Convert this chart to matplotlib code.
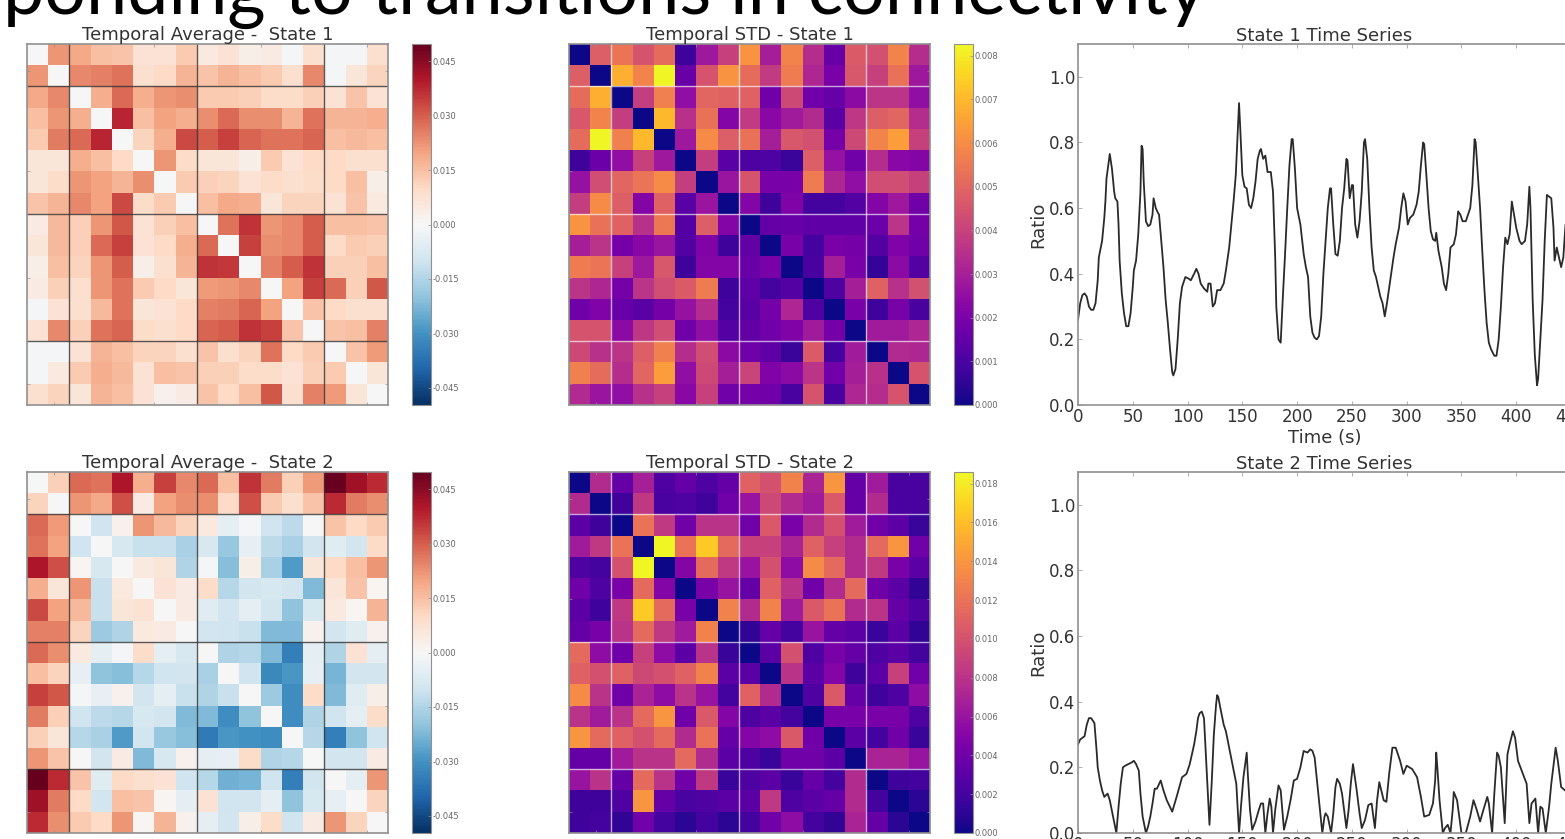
"""Connectivity state panels: temporal average, temporal STD and time series."""
import numpy as np
import matplotlib
matplotlib.use("Agg")
import matplotlib.pyplot as plt

W, H = 1565, 839

heading = "ponding to transitions in connectivity"

# all matrix values in thousandths
avg_state1 = [
    [0, 22, 19, 15, 14, 7, 7, 13, 5, 7, 3, 4, -1, 8, -1, -1, 8],
    [22, 0, 24, 25, 27, 8, 10, 17, 14, 17, 15, 13, 8, 24, -1, 6, 11],
    [19, 24, 0, 18, 28, 18, 22, 23, 13, 13, 12, 9, 9, 12, 7, 14, 7],
    [15, 22, 18, 0, 38, 15, 20, 18, 23, 28, 23, 23, 17, 27, 17, 17, 18],
    [13, 26, 28, 38, 0, 11, 18, 33, 30, 34, 29, 27, 27, 29, 15, 16, 15],
    [6, 6, 18, 15, 10, 0, 22, 9, 6, 6, 3, 13, 7, 10, 10, 8, 8],
    [6, 9, 22, 20, 17, 23, 0, 13, 12, 11, 7, 9, 8, 9, 10, 15, 3],
    [14, 17, 24, 20, 33, 9, 13, 0, 15, 19, 18, 6, 11, 11, 7, 14, 5],
    [4, 16, 12, 22, 31, 7, 12, 15, 0, 27, 36, 22, 24, 30, 15, 15, 14],
    [6, 16, 12, 28, 34, 7, 10, 18, 28, 0, 34, 23, 24, 30, 10, 13, 12],
    [3, 15, 11, 22, 30, 3, 8, 17, 36, 35, 0, 25, 30, 36, 12, 12, 15],
    [4, 12, 8, 22, 27, 13, 10, 6, 21, 22, 24, 0, 20, 34, 28, 12, 31],
    [-1, 7, 8, 16, 27, 6, 7, 10, 25, 26, 29, 20, 0, 14, 10, 8, 8],
    [7, 24, 12, 27, 29, 9, 8, 10, 29, 30, 36, 34, 14, 0, 14, 15, 25],
    [-1, -1, 7, 17, 15, 11, 11, 8, 14, 8, 11, 27, 10, 13, 0, 14, 21],
    [-1, 5, 13, 18, 16, 7, 15, 14, 12, 12, 9, 9, 7, 12, 13, 0, 6],
    [8, 11, 6, 17, 15, 7, 2, 4, 14, 10, 15, 31, 8, 25, 21, 6, 0],
]
avg_state2 = [
    [0, 12, 28, 27, 40, 18, 34, 24, 28, 15, 36, 26, 12, 21, 49, 42, 37],
    [11, 0, 22, 19, 32, 4, 20, 23, 23, 10, 32, 13, 8, 14, 37, 26, 23],
    [28, 21, 0, -10, 2, 22, 16, 11, 5, -5, -1, -10, -13, 0, 14, 10, 13],
    [27, 20, -10, 0, -8, -11, -11, -16, -8, -19, -4, -13, -16, -9, -6, -9, 10],
    [40, 32, 1, -8, 0, 5, 6, -15, -1, -21, 3, -16, -28, 6, 10, 15, 22],
    [18, 6, 22, -11, 5, 0, 7, 4, 9, -14, -9, -8, -9, -22, 6, 14, 1],
    [33, 20, 16, -11, 6, 7, 0, 4, -6, -9, -5, -9, -20, -8, 5, 1, 17],
    [25, 25, 11, -18, -15, 5, 4, 0, -9, -10, -11, -22, -22, 2, -9, -6, 2],
    [28, 23, 5, -5, -1, 9, -5, -8, 0, -15, -14, -22, -34, -5, -15, 7, -5],
    [15, 11, -4, -20, -21, -14, -10, -9, -16, 0, -10, -32, -29, -4, -23, -9, -9],
    [34, 31, -1, -4, 2, -9, -5, -11, -15, -11, 0, -18, -31, 9, -22, -6, 3],
    [26, 12, -10, -13, -14, -8, -9, -22, -22, -31, -20, 0, -31, -15, -10, -5, 9],
    [12, 6, -14, -16, -28, -9, -19, -21, -35, -29, -30, -31, 0, -14, -34, -20, -10],
    [22, 14, 0, -9, 4, -22, -8, 2, -5, -4, 9, -15, -14, 0, -9, -9, 4],
    [50, 37, 14, -6, 10, 8, 7, -10, -14, -24, -23, -10, -34, -9, 0, -5, 22],
    [42, 26, 10, -9, 15, 14, 1, -5, 7, -10, -9, -5, -20, -8, -4, 0, 11],
    [37, 23, 13, 10, 22, 1, 17, 2, -5, -9, 3, 9, -10, 4, 22, 11, 0],
]
std_state1 = [
    [0, 4.8, 5.4, 4.5, 5.2, 0.8, 2.8, 4.0, 6.2, 3.0, 5.8, 3.4, 1.6, 4.7, 4.4, 5.8, 3.4],
    [4.8, 0, 6.8, 5.8, 8.2, 1.6, 4.5, 6.2, 5.2, 3.8, 5.6, 3.2, 2.0, 4.6, 4.0, 5.3, 2.8],
    [5.2, 6.8, 0, 3.9, 5.7, 2.5, 5.0, 4.9, 4.9, 1.8, 4.2, 1.8, 1.6, 2.4, 3.6, 3.6, 2.5],
    [4.6, 5.8, 3.9, 0, 7.0, 3.5, 5.3, 2.2, 3.8, 2.3, 2.9, 3.3, 1.3, 3.7, 4.8, 5.0, 3.4],
    [5.2, 8.2, 5.7, 7.0, 0, 2.8, 6.0, 4.8, 5.3, 3.0, 4.6, 4.4, 1.9, 4.2, 5.8, 6.4, 4.0],
    [0.8, 1.7, 2.5, 4.0, 2.8, 0, 3.9, 1.3, 1.1, 1.1, 0.7, 4.8, 2.6, 1.8, 3.4, 2.3, 2.2],
    [2.6, 4.3, 5.0, 5.4, 6.0, 3.9, 0, 2.7, 4.5, 2.0, 2.0, 5.6, 3.2, 2.5, 4.3, 4.3, 4.0],
    [3.9, 6.0, 4.8, 2.2, 4.9, 1.3, 2.7, 0, 2.2, 0.8, 2.1, 0.9, 0.9, 1.2, 2.2, 2.8, 1.8],
    [6.2, 5.3, 4.9, 3.5, 5.5, 1.2, 4.8, 2.2, 0, 1.5, 1.6, 1.4, 1.4, 1.4, 1.7, 3.6, 1.9],
    [3.0, 3.6, 1.9, 2.3, 2.7, 1.2, 2.1, 0.8, 1.5, 0, 2.0, 0.9, 2.0, 1.9, 1.2, 2.1, 1.8],
    [5.6, 5.4, 4.0, 2.8, 4.6, 0.8, 2.2, 2.2, 1.6, 2.0, 0, 1.0, 3.0, 2.0, 0.6, 2.4, 1.2],
    [3.6, 3.2, 1.9, 3.6, 4.3, 4.7, 5.6, 0.8, 1.4, 0.9, 1.2, 0, 1.1, 3.0, 4.9, 3.5, 4.4],
    [1.8, 2.1, 1.6, 1.3, 1.9, 2.6, 3.4, 0.9, 1.3, 1.9, 3.2, 1.1, 0, 2.0, 0.8, 2.0, 1.0],
    [4.5, 4.5, 2.4, 3.7, 4.3, 1.8, 2.5, 1.2, 1.5, 1.8, 2.1, 2.9, 1.9, 0, 2.9, 2.9, 3.2],
    [4.2, 3.5, 3.6, 4.8, 5.7, 3.4, 4.3, 2.4, 1.8, 1.4, 0.7, 4.7, 0.9, 2.9, 0, 3.3, 3.2],
    [5.7, 5.2, 3.4, 5.0, 6.4, 2.5, 4.2, 3.0, 4.1, 2.1, 2.4, 3.6, 1.8, 3.0, 3.5, 0, 4.5],
    [3.3, 2.7, 2.5, 3.5, 4.0, 2.3, 4.0, 1.8, 1.9, 1.8, 1.0, 4.5, 1.0, 3.2, 3.4, 4.5, 0],
]
std_state2 = [
    [0, 7.5, 3.5, 6.8, 2.5, 3.5, 2.5, 3.5, 11, 10, 13, 7, 14, 3.5, 6.5, 2.2, 2.2],
    [7.5, 0, 1.8, 8.5, 2.2, 2.4, 1.8, 4, 6, 9.5, 7.5, 6.5, 10.5, 3.5, 7.5, 2.2, 2.2],
    [3, 1.8, 0, 12, 8.5, 4, 8, 8, 4, 10.5, 4.5, 7.5, 10, 6.5, 4, 3, 1.5],
    [6.5, 8.5, 12, 0, 18.5, 12, 16.5, 11.5, 9, 9, 7, 11, 9, 7.5, 11.5, 14, 4],
    [2.5, 2, 10, 18.5, 0, 5, 11.5, 8.5, 6, 10, 5.5, 13.5, 11.5, 7.5, 8.5, 4.5, 3],
    [4, 2.5, 4.5, 11.5, 5, 0, 4.5, 6, 3.5, 11, 8, 4, 7.5, 11.5, 4, 3, 1.2],
    [3, 1.8, 8.5, 16.5, 11.5, 4.5, 0, 13, 7.5, 13, 6.5, 10.5, 12, 7.5, 8, 3.5, 2.5],
    [3.5, 4.5, 8, 11.5, 8.5, 6.5, 13, 0, 1.2, 3.5, 2, 6, 3.5, 3, 1.5, 3, 1.2],
    [11.5, 5.5, 4, 9, 5.5, 3, 8, 1.5, 0, 3, 10, 2.5, 4.5, 3.5, 2.5, 3, 2],
    [11, 10, 11, 9.5, 10, 11, 13, 3, 3, 0, 8, 3, 5, 1.8, 3, 9, 4],
    [13.5, 8, 4, 7, 5.5, 8, 6, 2, 11, 7.5, 0, 2.5, 10.5, 3.5, 1.8, 2.5, 5.5],
    [8, 6.5, 8, 11.5, 14, 4, 10.5, 5, 2.5, 3, 2, 0, 4.5, 4.5, 4.5, 4.5, 2.5],
    [14, 11.5, 11, 10, 11.5, 7.5, 12, 3.5, 5, 5.5, 10.5, 4, 0, 3, 2, 4, 1.5],
    [3.5, 3.5, 6.5, 8, 8, 11.5, 7.5, 3, 2.5, 1.5, 4, 4, 3, 0, 7, 7, 6],
    [6, 8, 3.5, 11.5, 8, 4, 8.5, 1.5, 2.5, 3, 1.5, 3.5, 2, 7.5, 0, 1.8, 2],
    [1.8, 1.8, 2.5, 14, 3.5, 2.3, 2.5, 3, 3, 8.5, 2.5, 3, 3.5, 7.5, 2, 0, 1],
    [1.8, 2, 1.2, 4, 2, 1, 2, 1, 2, 4, 5.5, 2, 1.2, 7, 3.5, 1, 0],
]

block_edges = [1.5, 7.5, 13.5]
matrix_ticks = [0.75, 5.5, 10.5, 15.5]

avg_ticks = [-0.045, -0.030, -0.015, 0.0, 0.015, 0.030, 0.045]
std1_ticks = [0.000, 0.001, 0.002, 0.003, 0.004, 0.005, 0.006, 0.007, 0.008]
std2_ticks = [0.000, 0.002, 0.004, 0.006, 0.008, 0.010, 0.012, 0.014, 0.016, 0.018]

t_state1 = [0, 2, 4, 6, 8, 10, 12, 14, 16, 18, 19, 22, 24, 25, 26, 28, 29, 31, 33, 34, 36, 37, 38, 40, 42, 44, 46, 48,
            50, 51, 53, 55, 57, 58, 59, 60, 62, 64, 66, 68, 69, 71, 73, 74, 76, 78, 80, 82, 84, 86, 87, 89, 91, 93, 95,
            98, 101, 103, 106, 108, 110, 112, 115, 118, 119, 121, 123, 125, 127, 130, 133, 135, 138, 140, 142, 144,
            146, 147, 148, 150, 152, 154, 156, 158, 160, 162, 164, 166, 167, 169, 171, 173, 176, 178, 180, 181, 183,
            185, 187, 189, 191, 193, 195, 196, 198, 200, 203, 206, 208, 210, 212, 214, 216, 218, 220, 222, 224, 226,
            228, 230, 231, 233, 235, 237, 239, 241, 243, 245, 246, 248, 250, 251, 253, 255, 257, 259, 261, 262, 264,
            266, 268, 270, 272, 274, 276, 278, 280, 282, 285, 288, 290, 293, 295, 297, 299, 301, 303, 306, 309, 311,
            313, 315, 316, 318, 320, 322, 324, 326, 327, 329, 332, 334, 336, 338, 340, 343, 345, 347, 349, 351, 354,
            356, 358, 360, 362, 363, 365, 367, 369, 371, 373, 375, 377, 380, 382, 384, 386, 388, 390, 392, 394, 396,
            398, 400, 403, 405, 408, 410, 412, 413, 415, 417, 419, 420, 422, 424, 426, 428, 430, 432, 434, 435, 437,
            439, 441, 443, 445, 447]
ratio_state1 = [.26, .31, .335, .34, .33, .30, .29, .29, .31, .38, .45, .50, .57, .62, .69, .74, .765, .72, .65, .63,
                .62, .55, .44, .34, .28, .24, .24, .28, .36, .41, .44, .52, .65, .79, .78, .68, .56, .545, .55, .58,
                .63, .60, .585, .58, .50, .42, .32, .25, .17, .10, .09, .11, .20, .31, .36, .39, .385, .38, .40, .415,
                .40, .37, .355, .345, .37, .37, .30, .31, .35, .35, .37, .41, .48, .55, .62, .70, .85, .92, .85, .70,
                .665, .66, .61, .60, .63, .68, .75, .775, .78, .75, .76, .71, .71, .65, .45, .30, .20, .19, .33, .46,
                .60, .73, .81, .81, .72, .60, .55, .46, .42, .39, .27, .22, .205, .20, .21, .27, .40, .50, .60, .66,
                .66, .55, .46, .455, .50, .60, .66, .75, .745, .63, .67, .67, .55, .51, .56, .65, .80, .81, .75, .60,
                .48, .41, .39, .36, .33, .31, .27, .31, .38, .45, .49, .54, .60, .645, .62, .55, .57, .58, .61, .65,
                .73, .80, .795, .70, .60, .53, .505, .50, .525, .47, .42, .37, .35, .40, .48, .49, .52, .59, .58, .56,
                .56, .58, .60, .67, .81, .80, .70, .60, .47, .35, .25, .19, .17, .15, .15, .20, .30, .42, .51, .49,
                .52, .62, .58, .54, .50, .49, .50, .55, .665, .60, .32, .15, .06, .08, .20, .32, .50, .64, .635, .63,
                .54, .44, .48, .45, .42, .45, .55, .55]

t_state2 = [0, 2, 6, 8, 10, 12, 15, 17, 18, 20, 22, 24, 27, 29, 32, 35, 37, 39, 41, 43, 46, 49, 51, 53, 55.5, 57, 59,
            62, 64, 66, 68, 70, 72, 75.5, 78, 81, 86, 90, 95, 99, 102, 106, 108, 109.5, 111, 113, 115, 117, 120, 122,
            124, 126, 127, 128, 130, 133, 135, 138, 141, 144.5, 147, 149, 151, 154, 155, 157, 159, 162, 165, 167,
            169, 171, 173, 175, 176.5, 178, 180, 183, 185, 188, 191, 194, 197, 200, 203, 206, 209.5, 212, 214, 216,
            219, 223, 225, 226, 228, 231, 233, 235, 236.5, 239, 241, 245, 247, 249, 251, 254, 257, 259, 262, 265,
            268, 271, 273, 275, 279, 281.5, 284, 287, 290, 294, 297, 300, 305, 309.5, 313, 316, 320.6, 324, 326, 327,
            328, 330, 333, 335, 337.5, 340, 342, 343, 346, 350, 354, 358, 361, 364, 367, 370, 373.6, 375, 378, 380,
            382.5, 384, 386, 388, 389.5, 392, 394, 397, 399, 401.6, 405, 409.5, 412, 414, 417.5, 420, 422, 424, 427,
            430, 432, 436, 438, 441, 444.5]
ratio_state2 = [.27, .285, .295, .33, .35, .35, .335, .25, .20, .16, .13, .11, .12, .10, .05, 0, .08, .15, .20, .205,
                .21, .215, .22, .21, .19, .12, .05, 0, .02, .05, .09, .135, .135, .16, .13, .10, .065, .11, .17, .18,
                .21, .27, .31, .35, .365, .37, .35, .22, .025, .15, .30, .39, .42, .415, .38, .33, .31, .26, .21, .15,
                0, .09, .17, .245, .18, .07, .01, .035, .07, .09, .09, 0, .06, .105, .08, 0, .07, .145, .13, .01, .05,
                .10, .16, .165, .20, .25, .245, .255, .25, .23, .13, 0, .05, .06, .05, 0, .06, .14, .165, .15, .12,
                .015, .07, .15, .21, .14, .06, .015, .04, .085, .09, .015, .10, .155, .10, .095, .18, .26, .26, .22,
                .18, .205, .195, .17, .11, .05, .055, .09, .16, .245, .20, .10, 0, .015, .025, 0, .07, .125, .10, 0,
                0, .05, .10, .07, .035, .07, .11, .09, 0, .12, .245, .235, .20, .10, .03, .24, .27, .31, .29, .22, .19,
                .15, .03, .09, .105, 0, .08, .075, 0, .08, .15, .26, .22, .14, .13]

time_ticks = [0, 50, 100, 150, 200, 250, 300, 350, 400, 450]
ratio_ticks = [0.0, 0.2, 0.4, 0.6, 0.8, 1.0]

text_col = "#333333"
spine_col = "#909090"


def px_axes(fig, x0, y0, x1, y1):
    return fig.add_axes([x0 / W, 1 - y1 / H, (x1 - x0) / W, (y1 - y0) / H])


def style_spines(ax):
    for s in ax.spines.values():
        s.set_color(spine_col)
        s.set_linewidth(1.2)


def draw_matrix(fig, values, x0, y0, title, cmap, vmin, vmax, line_col, ticks, fmt, line_alpha):
    ax = px_axes(fig, x0, y0, x0 + 361, y0 + 361)
    im = ax.imshow(np.array(values) / 1000.0, cmap=cmap, vmin=vmin, vmax=vmax,
                   interpolation="nearest", aspect="auto")
    for e in block_edges:
        ax.axvline(e, color=line_col, lw=1.0, alpha=line_alpha)
        ax.axhline(e, color=line_col, lw=1.0, alpha=line_alpha)
    ax.set_xticks(matrix_ticks)
    ax.set_yticks(matrix_ticks)
    ax.tick_params(length=2, width=0.5, color=spine_col, direction="in",
                   labelbottom=False, labelleft=False, top=True, right=True)
    ax.set_title(title, fontsize=13, color=text_col, pad=2)
    style_spines(ax)

    cax = px_axes(fig, x0 + 385, y0, x0 + 404, y0 + 361)
    cb = fig.colorbar(im, cax=cax, ticks=ticks, format=fmt)
    cb.ax.tick_params(labelsize=6, length=2, width=0.5, color=spine_col, labelcolor="#666666",
                      direction="in", pad=1)
    cb.outline.set_edgecolor(spine_col)
    return ax


def draw_series(fig, t, ratio, y0, title, show_xlabel):
    ax = px_axes(fig, 1078, y0, 1571, y0 + 361)
    ax.plot(t, ratio, color="#2a2a2a", lw=1.3, solid_joinstyle="round")
    ax.set_xlim(0, 450)
    ax.set_ylim(0, 1.1)
    ax.set_xticks(time_ticks)
    ax.set_yticks(ratio_ticks)
    ax.tick_params(labelsize=12, labelcolor=text_col, length=3, width=0.5, color=spine_col,
                   direction="in", top=True, right=True, pad=2)
    ax.set_ylabel("Ratio", fontsize=13, color=text_col, labelpad=1)
    if show_xlabel:
        ax.set_xlabel("Time (s)", fontsize=13, color=text_col, labelpad=2)
    ax.set_title(title, fontsize=13, color=text_col, pad=2)
    style_spines(ax)
    return ax


if __name__ == "__main__":
    fig = plt.figure(figsize=(W / 100, H / 100), dpi=100)

    fig.text(3 / W, 1 - 14 / H, heading, fontsize=53, family="Lato", color="black", va="baseline", ha="left")

    draw_matrix(fig, avg_state1, 27, 44, "Temporal Average -  State 1", "RdBu_r", -0.0497, 0.0497,
                "#333333", avg_ticks, "%.3f", 0.8)
    draw_matrix(fig, avg_state2, 27, 472, "Temporal Average -  State 2", "RdBu_r", -0.0497, 0.0497,
                "#333333", avg_ticks, "%.3f", 0.8)
    draw_matrix(fig, std_state1, 569, 44, "Temporal STD - State 1", "plasma", 0, 0.00827,
                "white", std1_ticks, "%.3f", 0.65)
    draw_matrix(fig, std_state2, 569, 472, "Temporal STD - State 2", "plasma", 0, 0.0186,
                "white", std2_ticks, "%.3f", 0.65)

    draw_series(fig, t_state1, ratio_state1, 44, "State 1 Time Series", True)
    draw_series(fig, t_state2, ratio_state2, 472, "State 2 Time Series", False)

    fig.savefig("out.png", dpi=100)
    print("Saved out.png")
